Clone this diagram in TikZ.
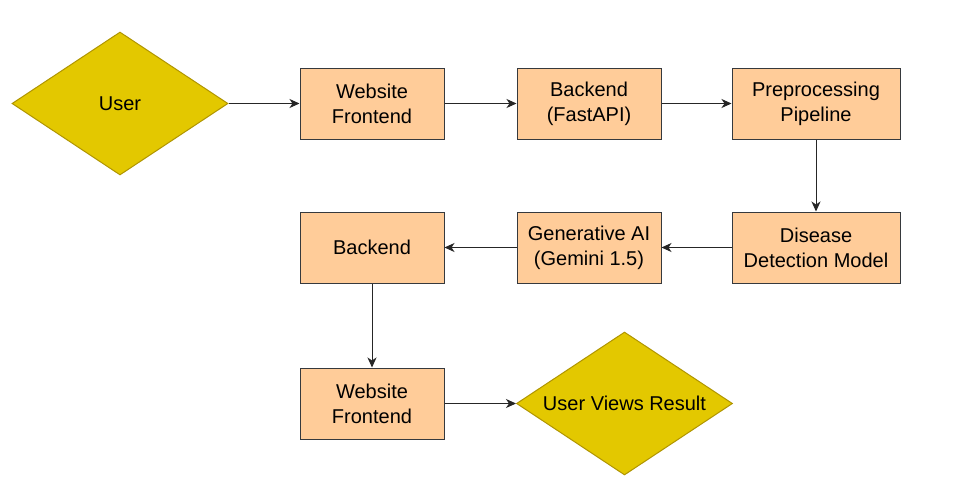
\documentclass[tikz,border=0pt]{standalone}
\usepackage{fontspec}
\setmainfont{Liberation Sans}
\usetikzlibrary{arrows.meta, shapes.geometric}
\definecolor{boxfill}{HTML}{FFCC99}
\definecolor{boxline}{HTML}{36393D}
\definecolor{userfill}{HTML}{E3C800}
\definecolor{userline}{HTML}{B09500}
\tikzset{headarrow/.style = {-{Stealth[length=10pt, width=9pt, inset=3pt]},
                             line width=1pt, draw=black!85},
         stagebox/.style = {rectangle, draw=boxline, fill=boxfill,
                            line width=1pt, minimum height=71pt,
                            align=center, font=\fontsize{20}{25}\selectfont},
         userdiamond/.style = {diamond, draw=userline, fill=userfill,
                               line width=1pt, inner sep=0pt, shape aspect=1.51,
                               minimum width=216pt, minimum height=143pt,
                               font=\fontsize{20}{25}\selectfont}}

\begin{document}
\begin{tikzpicture}[x=1pt, y=-1pt]
    \fill[white] (0,0) rectangle (958,493);

    % top row
    \node (user) at (120,103.5) [userdiamond] {User};
    \node (web1) at (372,103.5) [stagebox, minimum width=144pt] {Website\\Frontend};
    \node (fastapi) at (589,103.5) [stagebox, minimum width=144pt] {Backend\\(FastAPI)};
    \node (prep) at (816,103.5) [stagebox, minimum width=168pt] {Preprocessing\\Pipeline};

    % middle row
    \node (detect) at (816,247.5) [stagebox, minimum width=168pt] {Disease\\Detection Model};
    \node (genai) at (589,247.5) [stagebox, minimum width=144pt] {Generative AI\\(Gemini 1.5)};
    \node (back2) at (372,247.5) [stagebox, minimum width=144pt] {Backend};

    % bottom row
    \node (web2) at (372,403.5) [stagebox, minimum width=144pt] {Website\\Frontend};
    \node (result) at (624.5,403.5) [userdiamond] {User Views Result};

    \foreach \Source/\Target in {%
        user/web1,
        web1/fastapi,
        fastapi/prep,
        prep/detect,
        detect/genai,
        genai/back2,
        back2/web2,
        web2/result%
        }
        \draw[headarrow] (\Source) to (\Target);
\end{tikzpicture}
\end{document}
